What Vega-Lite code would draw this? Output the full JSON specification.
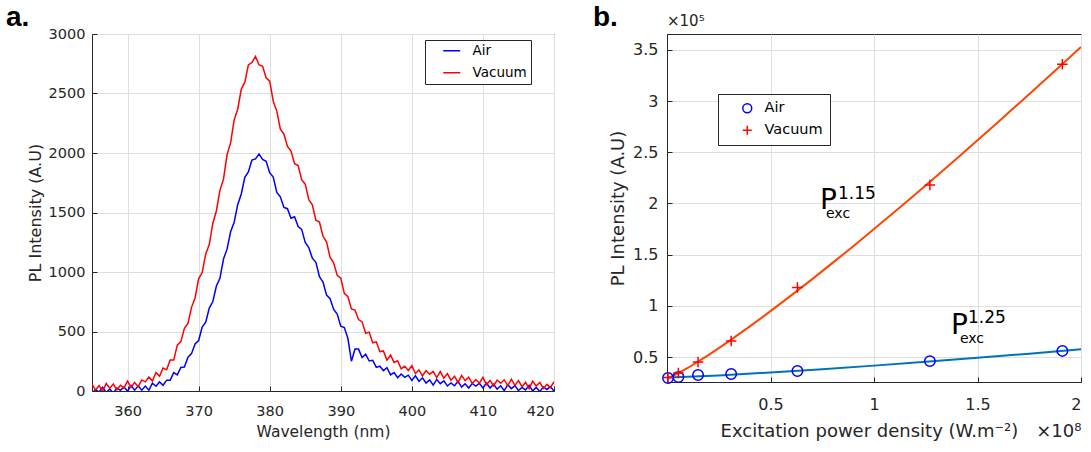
{
"$schema":"https://vega.github.io/schema/vega-lite/v6.json",
"background":"white",
"padding":{"left":5,"top":3,"right":0,"bottom":0},
"bounds":"flush",
"spacing":113,
"resolve":{"scale":{"color":"independent","shape":"independent","x":"independent","y":"independent"},"legend":{"color":"independent","shape":"independent"}},
"config":{
"font":"DejaVu Sans",
"view":{"stroke":"#262626","strokeWidth":1},
"axis":{"domainColor":"#262626","tickColor":"#262626","labelColor":"#262626","titleColor":"#262626","gridColor":"#dedede","tickSize":-5,"titleFontWeight":"normal","labelFont":"DejaVu Sans","titleFont":"DejaVu Sans"}
},
"datasets":{
"spectra":[
{"nm":355,"Air":-17,"Vacuum":58},{"nm":355.5,"Air":11,"Vacuum":8},{"nm":356,"Air":-8,"Vacuum":46},{"nm":356.5,"Air":32,"Vacuum":-3},{"nm":357,"Air":-13,"Vacuum":63},{"nm":357.5,"Air":17,"Vacuum":24},{"nm":358,"Air":-16,"Vacuum":58},{"nm":358.5,"Air":25,"Vacuum":10},{"nm":359,"Air":6,"Vacuum":49},{"nm":359.5,"Air":33,"Vacuum":27},
{"nm":360,"Air":-1,"Vacuum":83},{"nm":360.5,"Air":45,"Vacuum":30},{"nm":361,"Air":7,"Vacuum":72},{"nm":361.5,"Air":43,"Vacuum":36},{"nm":362,"Air":7,"Vacuum":93},{"nm":362.5,"Air":41,"Vacuum":77},{"nm":363,"Air":7,"Vacuum":118},{"nm":363.5,"Air":65,"Vacuum":84},{"nm":364,"Air":40,"Vacuum":155},{"nm":364.5,"Air":76,"Vacuum":125},
{"nm":365,"Air":48,"Vacuum":193},{"nm":365.5,"Air":91,"Vacuum":178},{"nm":366,"Air":91,"Vacuum":260},{"nm":366.5,"Air":154,"Vacuum":260},{"nm":367,"Air":135,"Vacuum":385},{"nm":367.5,"Air":198,"Vacuum":415},{"nm":368,"Air":201,"Vacuum":527},{"nm":368.5,"Air":284,"Vacuum":567},{"nm":369,"Air":314,"Vacuum":703},{"nm":369.5,"Air":396,"Vacuum":782},
{"nm":370,"Air":424,"Vacuum":943},{"nm":370.5,"Air":538,"Vacuum":995},{"nm":371,"Air":578,"Vacuum":1152},{"nm":371.5,"Air":697,"Vacuum":1230},{"nm":372,"Air":752,"Vacuum":1410},{"nm":372.5,"Air":882,"Vacuum":1515},{"nm":373,"Air":947,"Vacuum":1686},{"nm":373.5,"Air":1109,"Vacuum":1780},{"nm":374,"Air":1192,"Vacuum":1985},{"nm":374.5,"Air":1338,"Vacuum":2085},
{"nm":375,"Air":1418,"Vacuum":2278},{"nm":375.5,"Air":1566,"Vacuum":2368},{"nm":376,"Air":1656,"Vacuum":2535},{"nm":376.5,"Air":1796,"Vacuum":2595},{"nm":377,"Air":1840,"Vacuum":2740},{"nm":377.5,"Air":1940,"Vacuum":2760},{"nm":378,"Air":1951,"Vacuum":2812},{"nm":378.5,"Air":1991,"Vacuum":2742},{"nm":379,"Air":1946,"Vacuum":2728},{"nm":379.5,"Air":1931,"Vacuum":2632},
{"nm":380,"Air":1834,"Vacuum":2603},{"nm":380.5,"Air":1798,"Vacuum":2435},{"nm":381,"Air":1668,"Vacuum":2352},{"nm":381.5,"Air":1632,"Vacuum":2200},{"nm":382,"Air":1542,"Vacuum":2160},{"nm":382.5,"Air":1532,"Vacuum":2055},{"nm":383,"Air":1452,"Vacuum":2016},{"nm":383.5,"Air":1464,"Vacuum":1910},{"nm":384,"Air":1382,"Vacuum":1895},{"nm":384.5,"Air":1358,"Vacuum":1775},
{"nm":385,"Air":1248,"Vacuum":1738},{"nm":385.5,"Air":1206,"Vacuum":1608},{"nm":386,"Air":1116,"Vacuum":1565},{"nm":386.5,"Air":1081,"Vacuum":1435},{"nm":387,"Air":960,"Vacuum":1420},{"nm":387.5,"Air":915,"Vacuum":1300},{"nm":388,"Air":806,"Vacuum":1252},{"nm":388.5,"Air":776,"Vacuum":1122},{"nm":389,"Air":686,"Vacuum":1078},{"nm":389.5,"Air":646,"Vacuum":972},
{"nm":390,"Air":544,"Vacuum":948},{"nm":390.5,"Air":533,"Vacuum":820},{"nm":391,"Air":443,"Vacuum":792},{"nm":391.5,"Air":250,"Vacuum":690},{"nm":392,"Air":352,"Vacuum":680},{"nm":392.5,"Air":352,"Vacuum":600},{"nm":393,"Air":282,"Vacuum":581},{"nm":393.5,"Air":309,"Vacuum":485},{"nm":394,"Air":252,"Vacuum":495},{"nm":394.5,"Air":258,"Vacuum":405},
{"nm":395,"Air":198,"Vacuum":413},{"nm":395.5,"Air":208,"Vacuum":330},{"nm":396,"Air":171,"Vacuum":337},{"nm":396.5,"Air":196,"Vacuum":260},{"nm":397,"Air":135,"Vacuum":302},{"nm":397.5,"Air":155,"Vacuum":240},{"nm":398,"Air":111,"Vacuum":254},{"nm":398.5,"Air":143,"Vacuum":187},{"nm":399,"Air":115,"Vacuum":208},{"nm":399.5,"Air":133,"Vacuum":172},
{"nm":400,"Air":89,"Vacuum":213},{"nm":400.5,"Air":127,"Vacuum":147},{"nm":401,"Air":82,"Vacuum":177},{"nm":401.5,"Air":111,"Vacuum":128},{"nm":402,"Air":67,"Vacuum":171},{"nm":402.5,"Air":93,"Vacuum":140},{"nm":403,"Air":49,"Vacuum":165},{"nm":403.5,"Air":97,"Vacuum":113},{"nm":404,"Air":62,"Vacuum":163},{"nm":404.5,"Air":85,"Vacuum":108},
{"nm":405,"Air":42,"Vacuum":146},{"nm":405.5,"Air":67,"Vacuum":91},{"nm":406,"Air":44,"Vacuum":124},{"nm":406.5,"Air":82,"Vacuum":70},{"nm":407,"Air":33,"Vacuum":131},{"nm":407.5,"Air":61,"Vacuum":87},{"nm":408,"Air":25,"Vacuum":116},{"nm":408.5,"Air":63,"Vacuum":63},{"nm":409,"Air":41,"Vacuum":96},{"nm":409.5,"Air":64,"Vacuum":67},
{"nm":410,"Air":25,"Vacuum":115},{"nm":410.5,"Air":67,"Vacuum":54},{"nm":411,"Air":25,"Vacuum":89},{"nm":411.5,"Air":57,"Vacuum":44},{"nm":412,"Air":16,"Vacuum":92},{"nm":412.5,"Air":44,"Vacuum":65},{"nm":413,"Air":3,"Vacuum":94},{"nm":413.5,"Air":53,"Vacuum":46},{"nm":414,"Air":20,"Vacuum":99},{"nm":414.5,"Air":45,"Vacuum":47},
{"nm":415,"Air":4,"Vacuum":88},{"nm":415.5,"Air":30,"Vacuum":36},{"nm":416,"Air":9,"Vacuum":72},{"nm":416.5,"Air":48,"Vacuum":20},{"nm":417,"Air":1,"Vacuum":83},{"nm":417.5,"Air":30,"Vacuum":42},{"nm":418,"Air":-5,"Vacuum":72},{"nm":418.5,"Air":34,"Vacuum":21},{"nm":419,"Air":13,"Vacuum":56},{"nm":419.5,"Air":37,"Vacuum":28},
{"nm":420,"Air":-1,"Vacuum":78}
],
"fitcurves":[
{"x":0,"y":0.29,"series":"Vacuum"},{"x":0.05,"y":0.337,"series":"Vacuum"},{"x":0.1,"y":0.393,"series":"Vacuum"},{"x":0.2,"y":0.519,"series":"Vacuum"},{"x":0.3,"y":0.655,"series":"Vacuum"},{"x":0.4,"y":0.799,"series":"Vacuum"},{"x":0.5,"y":0.948,"series":"Vacuum"},{"x":0.6,"y":1.102,"series":"Vacuum"},{"x":0.7,"y":1.259,"series":"Vacuum"},{"x":0.8,"y":1.42,"series":"Vacuum"},{"x":0.9,"y":1.583,"series":"Vacuum"},{"x":1.0,"y":1.75,"series":"Vacuum"},{"x":1.1,"y":1.919,"series":"Vacuum"},{"x":1.2,"y":2.09,"series":"Vacuum"},{"x":1.3,"y":2.264,"series":"Vacuum"},{"x":1.4,"y":2.44,"series":"Vacuum"},{"x":1.5,"y":2.617,"series":"Vacuum"},{"x":1.6,"y":2.797,"series":"Vacuum"},{"x":1.7,"y":2.978,"series":"Vacuum"},{"x":1.8,"y":3.16,"series":"Vacuum"},{"x":1.9,"y":3.344,"series":"Vacuum"},{"x":2.0,"y":3.53,"series":"Vacuum"},
{"x":0,"y":0.3,"series":"Air"},{"x":0.1,"y":0.3065,"series":"Air"},{"x":0.25,"y":0.3205,"series":"Air"},{"x":0.5,"y":0.349,"series":"Air"},{"x":0.75,"y":0.381,"series":"Air"},{"x":1.0,"y":0.416,"series":"Air"},{"x":1.25,"y":0.453,"series":"Air"},{"x":1.5,"y":0.493,"series":"Air"},{"x":1.75,"y":0.533,"series":"Air"},{"x":2.0,"y":0.576,"series":"Air"}
],
"measured":[
{"x":0.005,"y":0.295,"series":"Air"},{"x":0.055,"y":0.305,"series":"Air"},{"x":0.15,"y":0.324,"series":"Air"},{"x":0.31,"y":0.334,"series":"Air"},{"x":0.63,"y":0.363,"series":"Air"},{"x":1.27,"y":0.46,"series":"Air"},{"x":1.91,"y":0.56,"series":"Air"},
{"x":0.005,"y":0.3,"series":"Vacuum"},{"x":0.055,"y":0.344,"series":"Vacuum"},{"x":0.15,"y":0.451,"series":"Vacuum"},{"x":0.31,"y":0.656,"series":"Vacuum"},{"x":0.63,"y":1.18,"series":"Vacuum"},{"x":1.27,"y":2.18,"series":"Vacuum"},{"x":1.91,"y":3.36,"series":"Vacuum"}
],
"notes":[
{"x":0.739,"y":1.945,"t":"P","part":"base"},{"x":0.826,"y":2.043,"t":"1.15","part":"sup"},{"x":0.768,"y":1.857,"t":"exc","part":"sub"},
{"x":1.372,"y":0.725,"t":"P","part":"base"},{"x":1.454,"y":0.832,"t":"1.25","part":"sup"},{"x":1.415,"y":0.637,"t":"exc","part":"sub"},
{"x":0,"y":3.656,"t":"×10⁵","part":"exp"},
{"x":0,"y":3.656,"t":"b.","part":"panel"}
],
"panelA":[{"nm":355,"intensity":3000,"t":"a."}]
},
"hconcat":[
{
"width":462,"height":357,
"encoding":{
"x":{"field":"nm","type":"quantitative","scale":{"domain":[355,420],"nice":false,"zero":false},"axis":{"title":"Wavelength (nm)","values":[360,370,380,390,400,410,420],"format":"d","labelFontSize":14.5,"titleFontSize":15.5,"labelPadding":18,"titlePadding":7}},
"y":{"field":"intensity","type":"quantitative","scale":{"domain":[0,3000],"nice":false},"axis":{"title":"PL Intensity (A.U)","values":[0,500,1000,1500,2000,2500,3000],"format":"d","labelFontSize":14.5,"titleFontSize":16,"labelPadding":12,"titlePadding":5}}
},
"layer":[
{
"data":{"name":"spectra"},
"transform":[{"fold":["Air","Vacuum"],"as":["series","intensity"]}],
"mark":{"type":"line","strokeWidth":1.5,"clip":true},
"encoding":{
"color":{"field":"series","type":"nominal","scale":{"domain":["Air","Vacuum"],"range":["#0000FF","#FF0000"]},"legend":{"title":null,"orient":"none","legendX":333,"legendY":6,"symbolType":"M-1.7,0H1.7","symbolSize":100,"symbolStrokeWidth":1.5,"labelFontSize":13.5,"labelColor":"#000000","strokeColor":"#262626","fillColor":"#ffffff","padding":4,"symbolOffset":16,"rowPadding":7,"labelOffset":14}}
}
},
{"data":{"name":"panelA"},"mark":{"type":"text","align":"left","baseline":"alphabetic","dx":-86,"dy":-8,"fontSize":28,"fontWeight":"bold","font":"Liberation Sans","color":"#000000"},"encoding":{"text":{"field":"t"}}}
]
},
{
"width":414,"height":348,
"encoding":{
"x":{"field":"x","type":"quantitative","scale":{"domain":[0,2],"nice":false,"zero":false},"axis":{"title":"Excitation power density (W.m⁻²)\u2003×10⁸","titleAnchor":"end","values":[0.5,1,1.5,2],"format":"~g","labelFontSize":16,"titleFontSize":18,"labelPadding":19,"titlePadding":10}},
"y":{"field":"y","type":"quantitative","scale":{"domain":[0.256,3.656],"nice":false,"zero":false},"axis":{"title":"PL Intensity (A.U)","values":[0.5,1,1.5,2,2.5,3,3.5],"format":"~g","labelFontSize":16,"titleFontSize":18,"labelPadding":14,"titlePadding":5}}
},
"layer":[
{"data":{"name":"fitcurves"},"transform":[{"filter":{"field":"series","equal":"Vacuum"}}],"mark":{"type":"line","color":"#FF4500","strokeWidth":2,"clip":true}},
{"data":{"name":"fitcurves"},"transform":[{"filter":{"field":"series","equal":"Air"}}],"mark":{"type":"line","color":"#0072BD","strokeWidth":2,"clip":true}},
{"data":{"name":"measured"},"mark":{"type":"point","filled":false,"strokeWidth":1.5,"size":110,"opacity":1},
"encoding":{
"color":{"field":"series","type":"nominal","scale":{"domain":["Air","Vacuum"],"range":["#0000FF","#FF0000"]},"legend":{"title":null,"orient":"none","legendX":51,"legendY":60,"labelFontSize":14.5,"labelColor":"#000000","strokeColor":"#262626","fillColor":"#ffffff","padding":7,"symbolOffset":15,"rowPadding":6,"labelOffset":10,"symbolStrokeWidth":1.5,"symbolSize":80,"labelExpr":"datum.label + '\u2003\u2003'"}},
"shape":{"field":"series","type":"nominal","scale":{"domain":["Air","Vacuum"],"range":["circle","M-1,0H1M0,-1V1"]}}
}},
{"data":{"name":"notes"},"transform":[{"filter":{"field":"part","equal":"base"}}],"mark":{"type":"text","align":"left","baseline":"alphabetic","fontSize":28,"color":"#000000"},"encoding":{"text":{"field":"t"}}},
{"data":{"name":"notes"},"transform":[{"filter":{"field":"part","equal":"sup"}}],"mark":{"type":"text","align":"left","baseline":"alphabetic","fontSize":17,"color":"#000000"},"encoding":{"text":{"field":"t"}}},
{"data":{"name":"notes"},"transform":[{"filter":{"field":"part","equal":"sub"}}],"mark":{"type":"text","align":"left","baseline":"alphabetic","fontSize":14,"color":"#000000"},"encoding":{"text":{"field":"t"}}},
{"data":{"name":"notes"},"transform":[{"filter":{"field":"part","equal":"exp"}}],"mark":{"type":"text","align":"left","baseline":"alphabetic","fontSize":15,"dy":-8,"color":"#262626"},"encoding":{"text":{"field":"t"}}},
{"data":{"name":"notes"},"transform":[{"filter":{"field":"part","equal":"panel"}}],"mark":{"type":"text","align":"left","baseline":"alphabetic","dx":-74,"dy":-8,"fontSize":28,"fontWeight":"bold","font":"Liberation Sans","color":"#000000"},"encoding":{"text":{"field":"t"}}}
]
}
]
}
